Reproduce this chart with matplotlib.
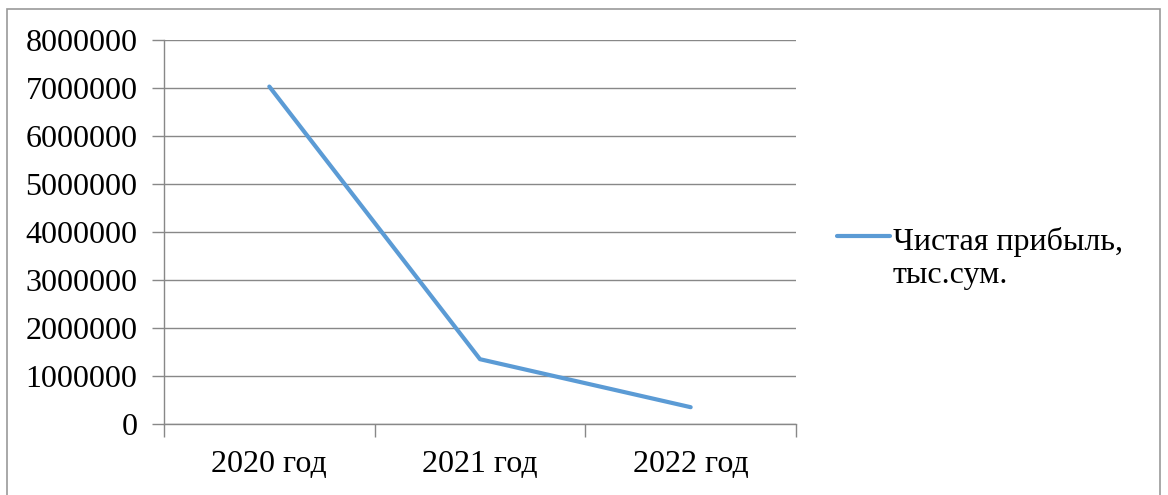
import numpy as np
import matplotlib.pyplot as plt
from matplotlib.patches import Rectangle
from matplotlib.lines import Line2D

# Данные графика
годы = ['2020 год', '2021 год', '2022 год']
прибыль = [7030000, 1350000, 350000]
подпись = 'Чистая прибыль,\nтыс.сум.'

plt.rcParams['font.family'] = ['Liberation Serif', 'DejaVu Serif']

fig = plt.figure(figsize=(11.68, 4.95), dpi=100)
W, H = 1168, 495
ax = fig.add_axes([164 / W, 1 - 424 / H, (796 - 164) / W, (424 - 40) / H])

синий = '#5B9BD5'
x = np.arange(len(годы))
ax.plot(x, прибыль, color=синий, lw=3, solid_capstyle='round')

ax.set_xlim(-0.5, len(годы) - 0.5)
ax.set_ylim(0, 8000000)
ax.set_yticks(np.arange(0, 8000001, 1000000))
ax.set_yticklabels([str(v) for v in range(0, 8000001, 1000000)])
ax.set_xticks(x)
ax.set_xticklabels(годы)
ax.set_xticks(np.arange(-0.5, len(годы), 1), minor=True)
ax.tick_params(axis='x', which='major', length=0, pad=19, labelsize=23)
ax.tick_params(axis='x', which='minor', length=9, width=1, color='#888888', direction='out')
ax.tick_params(axis='y', length=9, width=1, color='#888888', pad=10, labelsize=23)
ax.grid(axis='y', color='#888888', lw=1)
ax.set_axisbelow(True)
for s in ['top', 'right']:
    ax.spines[s].set_visible(False)
for s in ['left', 'bottom']:
    ax.spines[s].set_color('#888888')
    ax.spines[s].set_linewidth(1)

# Легенда справа
fig.lines.append(Line2D([837 / W, 890 / W], [1 - 236 / H, 1 - 236 / H],
                        transform=fig.transFigure, color=синий, lw=3,
                        solid_capstyle='round'))
fig.text(893 / W, 1 - 283 / H, подпись, fontsize=23, va='baseline', ha='left',
         linespacing=1.2)

# Рамка вокруг диаграммы
fig.patches.append(Rectangle((7 / W, -5 / H), (1160 - 7) / W, (486 + 5) / H,
                             transform=fig.transFigure, fill=False,
                             edgecolor='#999999', lw=1.2))

fig.savefig('out.png', dpi=100)
